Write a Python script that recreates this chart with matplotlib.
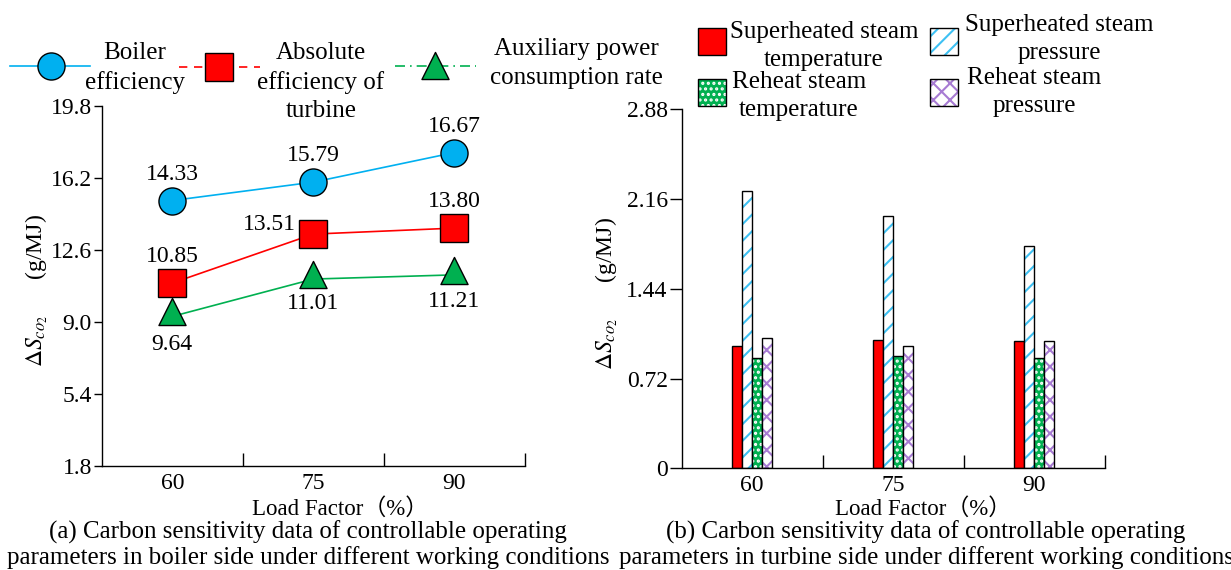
import numpy as np
import matplotlib
matplotlib.use("Agg")
import matplotlib.pyplot as plt
from matplotlib.patches import Rectangle
from matplotlib.path import Path

plt.rcParams['font.family'] = ['Liberation Serif', 'Noto Sans CJK SC']
plt.rcParams['mathtext.fontset'] = 'stix'
plt.rcParams['font.size'] = 17
plt.rcParams['hatch.linewidth'] = 1.5

W, H = 1231, 570

load_factors = ['60', '75', '90']

# (a) boiler side: marker heights, labels as printed
boiler_eff = [15.07, 15.99, 17.47]
turbine_eff = [10.94, 13.39, 13.69]
aux_power = [9.27, 11.14, 11.35]
boiler_lbl = ['14.33', '15.79', '16.67']
turbine_lbl = ['10.85', '13.51', '13.80']
aux_lbl = ['9.64', '11.01', '11.21']
yticks_a = [1.8, 5.4, 9.0, 12.6, 16.2, 19.8]
ylabels_a = ['1.8', '5.4', '9.0', '12.6', '16.2', '19.8']

# (b) turbine side
sh_temp = [0.978, 1.032, 1.021]
sh_pres = [2.224, 2.026, 1.780]
rh_temp = [0.888, 0.898, 0.882]
rh_pres = [1.048, 0.978, 1.021]
yticks_b = [0, 0.72, 1.44, 2.16, 2.88]
ylabels_b = ['0', '0.72', '1.44', '2.16', '2.88']

BLUE = '#00B0F0'
RED = '#FF0000'
GREEN = '#00B050'
CYAN = '#3EC1F3'
PURPLE = '#A77BD3'

# triangle centred on its centroid, like the original drawing
TRI = Path([(0, 2 / 3), (-0.5, -1 / 3), (0.5, -1 / 3), (0, 2 / 3)], closed=True)
MS = 19.5
MS_TRI = 26
BIG = 18


def px_rect(x0, y0, x1, y1):
    return [x0 / W, 1 - y1 / H, (x1 - x0) / W, (y1 - y0) / H]


def style_axes(ax, yticks, ylabels, ylen):
    for s in ['top', 'right']:
        ax.spines[s].set_visible(False)
    for s in ['left', 'bottom']:
        ax.spines[s].set_linewidth(1.0)
    x = np.arange(len(load_factors))
    ax.set_xlim(-0.5, 2.5)
    ax.set_ylim(yticks[0], yticks[-1])
    ax.set_yticks(yticks, ylabels)
    ax.set_xticks(x, load_factors)
    ax.set_xticks(list(x + 0.5), minor=True)
    ax.tick_params(axis='x', which='major', length=0, pad=5)
    ax.tick_params(axis='x', which='minor', direction='in', length=9.5, width=1.0)
    ax.tick_params(axis='y', direction='out', length=ylen, width=1.0, pad=1.5)
    ax.patch.set_alpha(0)


fig = plt.figure(figsize=(W / 100, H / 100), dpi=100)
ax1 = fig.add_axes(px_rect(101.7, 106, 525, 465.7))
ax2 = fig.add_axes(px_rect(681.7, 109.3, 1104.7, 468.3))
x = np.arange(len(load_factors))

# ---- (a) lines
style_axes(ax1, yticks_a, ylabels_a, 5.5)
ax1.plot(x, boiler_eff, color=BLUE, lw=1.2, marker='o', ms=MS, mfc=BLUE,
         mec='black', mew=1.0, clip_on=False)
ax1.plot(x, turbine_eff, color=RED, lw=1.2, marker='s', ms=MS, mfc=RED,
         mec='black', mew=1.0, clip_on=False)
ax1.plot(x, aux_power, color=GREEN, lw=1.2, marker=TRI, ms=MS_TRI, mfc=GREEN,
         mec='black', mew=1.0, clip_on=False)

lab = dict(textcoords='offset pixels', ha='center', va='baseline')
for i in range(3):
    ax1.annotate(boiler_lbl[i], (x[i], boiler_eff[i]), xytext=(0, 21), **lab)
    if i == 1:
        ax1.annotate(turbine_lbl[i], (x[i], turbine_eff[i]), xytext=(-17, 4),
                     textcoords='offset pixels', ha='right', va='baseline')
    else:
        ax1.annotate(turbine_lbl[i], (x[i], turbine_eff[i]), xytext=(0, 21), **lab)
aux_dy = [-34, -30, -32]
for i in range(3):
    ax1.annotate(aux_lbl[i], (x[i], aux_power[i]), xytext=(0, aux_dy[i]), **lab)

ylab = r'$\Delta S_{co_2}$' + '      (g/MJ)'
ax1.set_ylabel(ylab)
ax1.yaxis.set_label_coords(-0.123, 0.487)

# ---- (b) bars
style_axes(ax2, yticks_b, ylabels_b, 8.6)
w = 10 / 141
ax2.bar(x - 1.5 * w, sh_temp, w, color=RED, edgecolor='black', lw=1.0)
ax2.bar(x - 0.5 * w, sh_pres, w, facecolor='white', edgecolor=CYAN, hatch='//', lw=0)
ax2.bar(x - 0.5 * w, sh_pres, w, fill=False, edgecolor='black', lw=1.0)
ax2.bar(x + 0.5 * w, rh_temp, w, facecolor=GREEN, edgecolor='white', hatch='...', lw=0)
ax2.bar(x + 0.5 * w, rh_temp, w, fill=False, edgecolor='black', lw=1.0)
ax2.bar(x + 1.5 * w, rh_pres, w, facecolor='white', edgecolor=PURPLE, hatch='xx', lw=0)
ax2.bar(x + 1.5 * w, rh_pres, w, fill=False, edgecolor='black', lw=1.0)

ax2.set_ylabel(ylab)
ax2.yaxis.set_label_coords(-0.146, 0.487)

# ---- overlay for legends and captions (pixel coordinates)
ov = fig.add_axes([0, 0, 1, 1], zorder=10)
ov.set_xlim(0, W)
ov.set_ylim(H, 0)
ov.axis('off')

ov.plot([9.5, 90], [66, 66], color=BLUE, lw=1.2)
ov.plot([51], [66], marker='o', ms=MS, mfc=BLUE, mec='black', mew=1.0)
ov.plot([179, 260], [67, 67], color=RED, lw=1.2, ls=(0, (5, 4)))
ov.plot([219], [67], marker='s', ms=MS, mfc=RED, mec='black', mew=1.0)
ov.plot([395, 476], [66, 66], color=GREEN, lw=1.2, ls=(0, (6, 3, 1, 3)))
ov.plot([435], [70], marker=TRI, ms=MS_TRI, mfc=GREEN, mec='black', mew=1.0)

txt = dict(ha='center', va='center', multialignment='center', linespacing=1.36,
           fontsize=BIG)
ov.text(135, 68, 'Boiler\nefficiency', **txt)
ov.text(321, 82, 'Absolute\nefficiency of\nturbine', **txt)
ov.text(576, 63.5, 'Auxiliary power\nconsumption rate', **txt)

ov.add_patch(Rectangle((698, 27.7), 28, 27, facecolor=RED, edgecolor='black', lw=1.0))
ov.add_patch(Rectangle((930, 27.7), 28, 27, facecolor='white', edgecolor=CYAN, hatch='//', lw=0))
ov.add_patch(Rectangle((930, 27.7), 28, 27, fill=False, edgecolor='black', lw=1.0))
ov.add_patch(Rectangle((698, 79.3), 28, 27, facecolor=GREEN, edgecolor='white', hatch='...', lw=0))
ov.add_patch(Rectangle((698, 79.3), 28, 27, fill=False, edgecolor='black', lw=1.0))
ov.add_patch(Rectangle((930, 79.3), 28, 27, facecolor='white', edgecolor=PURPLE, hatch='xx', lw=0))
ov.add_patch(Rectangle((930, 79.3), 28, 27, fill=False, edgecolor='black', lw=1.0))

ov.text(824, 46, 'Superheated steam\ntemperature', **txt)
ov.text(1059.5, 38.7, 'Superheated steam\npressure', **txt)
ov.text(799, 96.3, 'Reheat steam\ntemperature', **txt)
ov.text(1034.5, 92, 'Reheat steam\npressure', **txt)

ov.text(252, 515, 'Load Factor（%）', ha='left', va='baseline', fontsize=16.5)
ov.text(835, 515, 'Load Factor（%）', ha='left', va='baseline', fontsize=16.5)

cap = dict(ha='center', va='baseline', fontsize=BIG)
ov.text(308, 539, '(a) Carbon sensitivity data of controllable operating', **cap)
ov.text(308, 564, 'parameters in boiler side under different working conditions', **cap)
ov.text(926, 539, '(b) Carbon sensitivity data of controllable operating', **cap)
ov.text(926, 564, 'parameters in turbine side under different working conditions', **cap)

fig.savefig('out.png', dpi=100)
